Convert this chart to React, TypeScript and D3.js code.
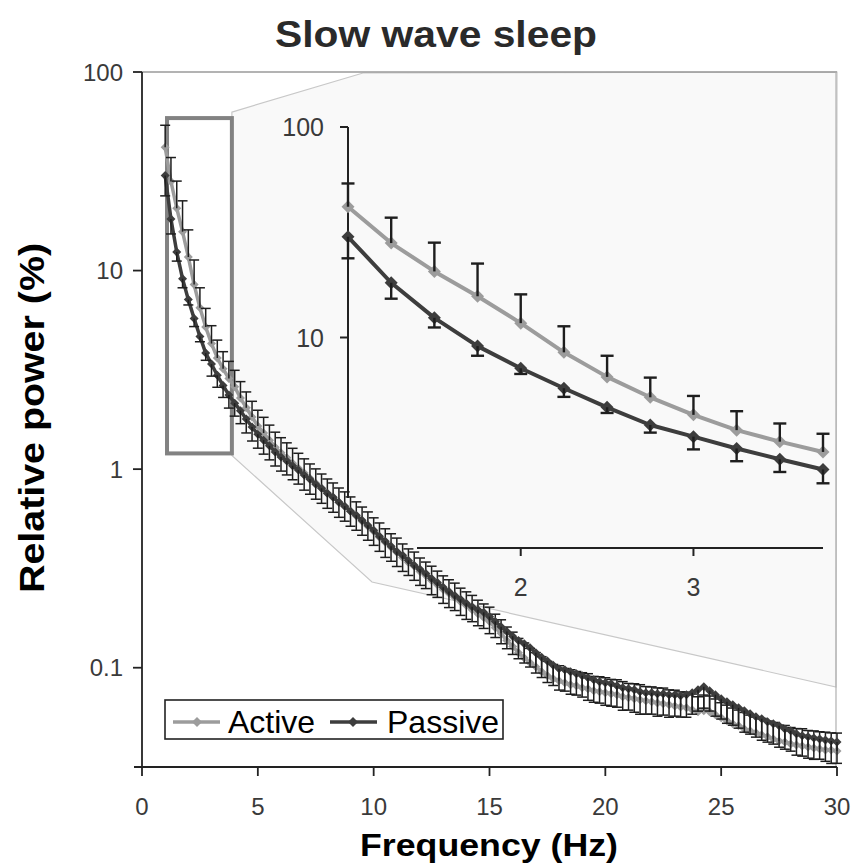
import React from 'react';
import * as d3 from 'd3';

// Frequency bins (Hz)
const freq = [
  1, 1.25, 1.5, 1.75, 2, 2.25, 2.5, 2.75, 3, 3.25, 3.5, 3.75,
  4, 4.25, 4.5, 4.75, 5, 5.25, 5.5, 5.75, 6, 6.25, 6.5, 6.75, 7, 7.25, 7.5, 7.75, 8, 8.25, 8.5, 8.75, 9, 9.25, 9.5, 9.75,
  10, 10.25, 10.5, 10.75, 11, 11.25, 11.5, 11.75, 12, 12.25, 12.5, 12.75, 13, 13.25, 13.5, 13.75, 14, 14.25, 14.5, 14.75, 15, 15.25, 15.5, 15.75,
  16, 16.25, 16.5, 16.75, 17, 17.25, 17.5, 17.75, 18, 18.25, 18.5, 18.75, 19, 19.25, 19.5, 19.75, 20, 20.25, 20.5, 20.75, 21, 21.25, 21.5, 21.75,
  22, 22.25, 22.5, 22.75, 23, 23.25, 23.5, 23.75, 24, 24.25, 24.5, 24.75, 25, 25.25, 25.5, 25.75, 26, 26.25, 26.5, 26.75, 27, 27.25, 27.5, 27.75,
  28, 28.25, 28.5, 28.75, 29, 29.25, 29.5, 29.75, 30,
];

// Relative power (%)
const active = [
  41.8, 28.1, 20.6, 15.7, 11.7, 8.5, 6.5, 5.2, 4.29, 3.63, 3.2, 2.86,
  2.6, 2.28, 2.04, 1.83, 1.65, 1.52, 1.4, 1.29, 1.21, 1.14, 1.07, 1.01, 0.955, 0.9, 0.85, 0.801, 0.756, 0.722, 0.681, 0.651, 0.614, 0.58, 0.546, 0.516,
  0.486, 0.454, 0.428, 0.404, 0.381, 0.359, 0.339, 0.324, 0.305, 0.291, 0.275, 0.262, 0.248, 0.237, 0.226, 0.215, 0.206, 0.196, 0.187, 0.179, 0.171, 0.159, 0.149, 0.137,
  0.128, 0.119, 0.112, 0.106, 0.101, 0.0955, 0.0912, 0.088, 0.086, 0.084, 0.0821, 0.0811, 0.0793, 0.0784, 0.0766, 0.0757, 0.0748, 0.074, 0.0731, 0.0715, 0.0706, 0.0698, 0.069, 0.0681,
  0.0673, 0.0665, 0.0658, 0.065, 0.0642, 0.0635, 0.0628, 0.0614, 0.06, 0.0607, 0.06, 0.058, 0.056, 0.054, 0.0522, 0.051, 0.0492, 0.0481, 0.047, 0.0459, 0.0449, 0.0438, 0.0428, 0.0423,
  0.0413, 0.0408, 0.0404, 0.0399, 0.0394, 0.039, 0.0385, 0.0385, 0.0381,
];
const passive = [
  30.1, 18.2, 12.4, 9.1, 7.14, 5.74, 4.66, 3.84, 3.38, 2.97, 2.64, 2.36,
  2.15, 1.97, 1.79, 1.63, 1.5, 1.4, 1.31, 1.22, 1.15, 1.1, 1.04, 0.989, 0.933, 0.89, 0.84, 0.801, 0.756, 0.722, 0.681, 0.651, 0.614, 0.586, 0.553, 0.522,
  0.492, 0.459, 0.433, 0.409, 0.385, 0.368, 0.347, 0.328, 0.313, 0.298, 0.281, 0.269, 0.254, 0.242, 0.231, 0.221, 0.211, 0.203, 0.196, 0.19, 0.181, 0.171, 0.161, 0.152,
  0.144, 0.137, 0.132, 0.126, 0.119, 0.113, 0.108, 0.103, 0.0989, 0.0977, 0.0955, 0.0933, 0.0912, 0.089, 0.087, 0.085, 0.084, 0.0831, 0.0811, 0.0793, 0.0784, 0.0775, 0.0757, 0.0748,
  0.0748, 0.074, 0.074, 0.0731, 0.0731, 0.0723, 0.0731, 0.0748, 0.0775, 0.0802, 0.0766, 0.0731, 0.0698, 0.0673, 0.065, 0.0628, 0.0607, 0.0586, 0.0566, 0.0553, 0.0534, 0.0522, 0.051, 0.0492,
  0.0481, 0.0465, 0.0454, 0.0449, 0.0443, 0.0438, 0.0433, 0.0428, 0.0423,
];
// Error bar sizes (% of value): active shown upward, passive shown downward
const activeErrPct = [
  29, 32, 37, 43, 37, 33, 26, 24, 23, 23, 22, 22,
  21, 21, 20, 20, 20, 20, 19, 19, 19, 19, 19, 19, 18, 18, 18, 18, 18, 18, 18, 18, 18, 18, 18, 18,
  17, 18, 17, 17, 18, 17, 17, 18, 17, 17, 18, 17, 17, 17, 18, 17, 17, 18, 17, 17, 18, 17, 17, 17,
  18, 18, 19, 18, 18, 19, 18, 18, 19, 18, 19, 18, 19, 19, 18, 19, 19, 18, 19, 19, 18, 19, 19, 18,
  19, 19, 20, 19, 20, 19, 20, 20, 19, 20, 20, 20, 19, 20, 20, 20, 21, 20, 20, 21, 20, 21, 20, 21,
  21, 21, 22, 21, 22, 22, 23, 22, 23,
];
const passiveErrPct = [
  21, 16, 10, 10, 6, 9, 6, 8, 13, 13, 13, 14,
  14, 14, 15, 15, 15, 15, 15, 15, 15, 15, 15, 15, 16, 16, 16, 16, 16, 16, 16, 16, 16, 16, 16, 16,
  16, 16, 17, 16, 16, 17, 16, 16, 17, 16, 17, 16, 17, 17, 16, 17, 17, 16, 17, 17, 18, 17, 18, 18,
  19, 19, 20, 20, 21, 21, 22, 21, 22, 22, 23, 22, 22, 23, 23, 22, 23, 23, 22, 23, 22, 23, 23, 22,
  22, 23, 22, 23, 22, 22, 23, 22, 22, 22, 21, 22, 21, 22, 21, 21, 22, 21, 21, 22, 21, 21, 22, 21,
  21, 22, 21, 22, 22, 21, 22, 23, 22,
];

const mainXTicks = [0, 5, 10, 15, 20, 25, 30];
const mainYTicks = [100, 10, 1, 0.1];
const insetXTicks = [2, 3];
const insetYTicks = [100, 10];
const insetMaxFreq = 3.75;
const zoomBox = { f0: 1.08, f1: 3.88, v0: 1.2, v1: 58.6 };

const ACTIVE_COLOR = '#9c9c9c';
const PASSIVE_COLOR = '#3d3d3d';
const FONT = '"Liberation Sans", Arial, Helvetica, sans-serif';

type Pt = { f: number; v: number; e: number };

function diamond(cx: number, cy: number, r: number) {
  return `M${cx},${cy - r}L${cx + r},${cy}L${cx},${cy + r}L${cx - r},${cy}Z`;
}

function Series({ pts, xs, ys, color, lw, mr, dir, capW, ebW }: any) {
  const line = d3.line<Pt>().x((d) => xs(d.f)).y((d) => ys(d.v));
  return (
    <g>
      <path d={line(pts) || ''} fill="none" stroke={color} strokeWidth={lw} strokeLinejoin="round" />
      {pts.map((d: Pt, i: number) => (
        <path key={'m' + i} d={diamond(xs(d.f), ys(d.v), mr)} fill={color} />
      ))}
      {pts.map((d: Pt, i: number) => {
        const end = dir > 0 ? d.v * (1 + d.e / 100) : d.v * (1 - d.e / 100);
        const cx = xs(d.f);
        return (
          <g key={'e' + i} stroke="#1e1e1e" strokeWidth={ebW}>
            <line x1={cx} x2={cx} y1={ys(d.v)} y2={ys(end)} />
            <line x1={cx - capW} x2={cx + capW} y1={ys(end)} y2={ys(end)} />
          </g>
        );
      })}
    </g>
  );
}

export default function App() {
  const W = 851;
  const H = 863;
  const x = d3.scaleLinear().domain([0, 30]).range([142, 837]);
  const y = d3.scaleLog().domain([Math.pow(10, -1.5), 100]).range([767, 72]);
  const xi = d3.scaleLinear().domain([1, insetMaxFreq]).range([348, 823]);
  const yi = d3.scaleLog().domain([1, 100]).range([548, 127]);

  const actPts: Pt[] = freq.map((f, i) => ({ f, v: active[i], e: activeErrPct[i] }));
  const pasPts: Pt[] = freq.map((f, i) => ({ f, v: passive[i], e: passiveErrPct[i] }));
  const actIn = actPts.filter((d) => d.f <= insetMaxFreq);
  const pasIn = pasPts.filter((d) => d.f <= insetMaxFreq);

  const bx0 = x(zoomBox.f0), bx1 = x(zoomBox.f1);
  const by0 = y(zoomBox.v1), by1 = y(zoomBox.v0);

  const calloutPoly = [
    [bx1, by0 - 6],
    [363, 73],
    [837, 72],
    [836, 687],
    [372, 582],
    [bx1, by1 + 2],
  ];

  return (
    <svg width={W} height={H} style={{ position: 'absolute', left: 0, top: 0, background: '#fff' }} fontFamily={FONT}>
      <rect x={0} y={0} width={W} height={H} fill="#fff" />
      {/* Title */}
      <text x={436} y={47} textAnchor="middle" fontSize={36} fontWeight="bold" fill="#2a2a2a" textLength={322} lengthAdjust="spacingAndGlyphs">
        Slow wave sleep
      </text>

      {/* callout shading */}
      <polygon points={calloutPoly.map((p) => p.join(',')).join(' ')} fill="#f9f9f9" stroke="#c8c8c8" strokeWidth={1.2} />

      {/* plot border */}
      <line x1={142} x2={837} y1={72} y2={72} stroke="#9a9a9a" strokeWidth={1.5} />
      <line x1={836} x2={836} y1={72} y2={767} stroke="#b0b0b0" strokeWidth={1.2} />

      {/* zoom box */}
      <rect x={bx0} y={by0} width={bx1 - bx0} height={by1 - by0} fill="#fff" stroke="#828282" strokeWidth={4} />

      {/* inset axes */}
      <g stroke="#222" strokeWidth={2}>
        <line x1={348} x2={348} y1={yi(100)} y2={498} />
        <line x1={417} x2={xi(insetMaxFreq)} y1={548} y2={548} />
        {insetYTicks.map((t) => (
          <line key={t} x1={340} x2={348} y1={yi(t)} y2={yi(t)} />
        ))}
        {insetXTicks.map((t) => (
          <line key={t} x1={xi(t)} x2={xi(t)} y1={548} y2={556} />
        ))}
      </g>
      {insetYTicks.map((t) => (
        <text key={t} x={324} y={yi(t) + 9} textAnchor="end" fontSize={25} fill="#3a3a3a">
          {t}
        </text>
      ))}
      {insetXTicks.map((t) => (
        <text key={t} x={xi(t)} y={596} textAnchor="middle" fontSize={25} fill="#3a3a3a">
          {t}
        </text>
      ))}

      {/* main axes */}
      <g stroke="#222" strokeWidth={1.8}>
        <line x1={142} x2={142} y1={72} y2={767} />
        <line x1={134} x2={837} y1={767} y2={767} />
        {mainYTicks.map((t) => (
          <line key={t} x1={133} x2={142} y1={y(t)} y2={y(t)} />
        ))}
        {mainXTicks.map((t) => (
          <line key={t} x1={x(t)} x2={x(t)} y1={767} y2={776} />
        ))}
      </g>
      {mainYTicks.map((t) => (
        <text key={t} x={123} y={y(t) + 8.5} textAnchor="end" fontSize={24} fill="#3a3a3a">
          {t}
        </text>
      ))}
      {mainXTicks.map((t) => (
        <text key={t} x={x(t)} y={815} textAnchor="middle" fontSize={24} fill="#3a3a3a">
          {t}
        </text>
      ))}

      {/* main series */}
      <Series pts={actPts} xs={x} ys={y} color={ACTIVE_COLOR} lw={3.5} mr={4.5} dir={1} capW={5} ebW={1.5} />
      <Series pts={pasPts} xs={x} ys={y} color={PASSIVE_COLOR} lw={3.5} mr={4.5} dir={-1} capW={5} ebW={1.5} />

      {/* inset series */}
      <Series pts={actIn} xs={xi} ys={yi} color={ACTIVE_COLOR} lw={4} mr={6.5} dir={1} capW={6.5} ebW={2.4} />
      <Series pts={pasIn} xs={xi} ys={yi} color={PASSIVE_COLOR} lw={4} mr={6.5} dir={-1} capW={6.5} ebW={2.4} />

      {/* legend */}
      <rect x={165} y={700} width={338} height={39} fill="#fff" stroke="#222" strokeWidth={1.6} />
      <line x1={173} x2={220} y1={722} y2={722} stroke={ACTIVE_COLOR} strokeWidth={3.5} />
      <path d={diamond(197, 722, 5)} fill={ACTIVE_COLOR} />
      <text x={228} y={733} fontSize={32} fill="#000">Active</text>
      <line x1={330} x2={377} y1={722} y2={722} stroke={PASSIVE_COLOR} strokeWidth={3.5} />
      <path d={diamond(353, 722, 5)} fill={PASSIVE_COLOR} />
      <text x={387} y={733} fontSize={32} fill="#000">Passive</text>

      {/* axis titles */}
      <text x={489} y={856} textAnchor="middle" fontSize={31} fontWeight="bold" fill="#000" textLength={258} lengthAdjust="spacingAndGlyphs">
        Frequency (Hz)
      </text>
      <text transform="translate(44,418) rotate(-90)" textAnchor="middle" fontSize={35} fontWeight="bold" fill="#000" textLength={350} lengthAdjust="spacingAndGlyphs">
        Relative power (%)
      </text>
    </svg>
  );
}
